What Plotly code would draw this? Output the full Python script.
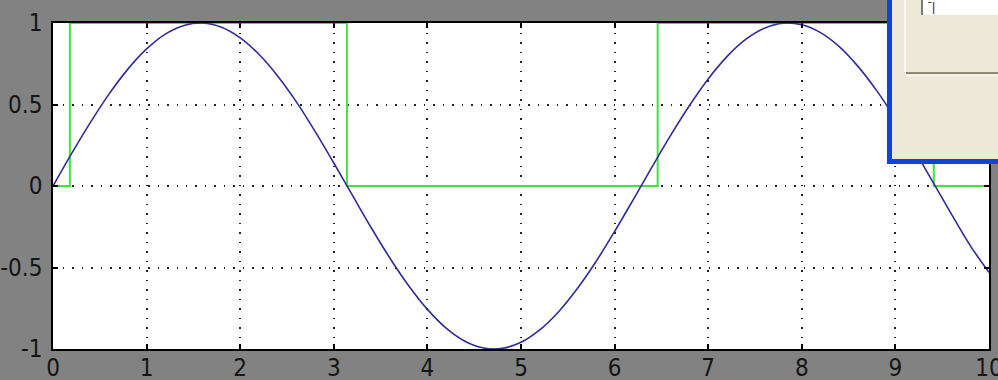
import plotly.graph_objects as go

# Blue curve samples
x_curve = [0.0, 0.2, 0.4, 0.6, 0.8, 1.0, 1.2, 1.4, 1.6, 1.8, 2.0, 2.2, 2.4, 2.6, 2.8,
           3.0, 3.2, 3.4, 3.6, 3.8, 4.0, 4.2, 4.4, 4.6, 4.8, 5.0, 5.2, 5.4, 5.6, 5.8,
           6.0, 6.2, 6.4, 6.6, 6.8, 7.0, 7.2, 7.4, 7.6, 7.8, 8.0, 8.2, 8.4, 8.6, 8.8,
           9.0, 9.2, 9.4, 9.6, 9.8, 10.0]
y_curve = [0.0, 0.2, 0.39, 0.565, 0.717, 0.841, 0.932, 0.985, 1.0, 0.974, 0.909, 0.808,
           0.675, 0.516, 0.335, 0.141, -0.058, -0.256, -0.443, -0.612, -0.757, -0.872,
           -0.952, -0.994, -0.996, -0.959, -0.883, -0.773, -0.631, -0.465, -0.279,
           -0.083, 0.117, 0.312, 0.494, 0.657, 0.794, 0.899, 0.968, 0.999, 0.989,
           0.941, 0.855, 0.734, 0.585, 0.412, 0.223, 0.025, -0.174, -0.366, -0.53]

# Green step signal (switching points)
x_step = [0.0, 0.18, 3.14, 6.46, 9.41, 10.0]
y_step = [0, 1, 0, 1, 0, 0]

x_ticks = [0, 1, 2, 3, 4, 5, 6, 7, 8, 9, 10]
x_tick_labels = ["0", "1", "2", "3", "4", "5", "6", "7", "8", "9", "10"]
y_ticks = [-1, -0.5, 0, 0.5, 1]
y_tick_labels = ["-1", "-0.5", "0", "0.5", "1"]

W, H = 998, 380
L, R, T, B = 53, 9, 23, 31
PW, PH = W - L - R, H - T - B


def px(xp):
    return (xp - L) / PW


def py(yp):
    return (H - B - yp) / PH


FONT = "Liberation Sans Narrow, DejaVu Sans Condensed, Arial Narrow, sans-serif"

fig = go.Figure()
fig.add_trace(go.Scatter(x=x_step, y=y_step, mode="lines", line_shape="hv",
                         line=dict(color="#44e044", width=2), showlegend=False))
fig.add_trace(go.Scatter(x=x_curve, y=y_curve, mode="lines", line_shape="spline",
                         line=dict(color="#2e2e98", width=1.6), showlegend=False))

axis_common = dict(
    showline=True, linecolor="black", linewidth=1.5, mirror="ticks",
    ticks="inside", ticklen=5, tickcolor="black", tickwidth=1.5,
    showgrid=True, gridcolor="#222222", gridwidth=1.5, griddash="1.5px,8px",
    zeroline=False, automargin=False, ticklabeloverflow="allow",
    tickfont=dict(family=FONT, size=24, color="#151515"),
)

fig.update_xaxes(range=[0, 10], tickvals=x_ticks, ticktext=x_tick_labels, ticklabelstandoff=-4,
                 **axis_common)
fig.update_yaxes(range=[-1, 1], tickvals=y_ticks, ticktext=y_tick_labels, ticklabelstandoff=4,
                 **axis_common)

shapes = [
    # dialog window body with blue border
    dict(type="rect", xref="paper", yref="paper", x0=px(887), x1=px(1005), y0=py(164), y1=py(-5),
         fillcolor="#0b46d8", line=dict(width=0), layer="above"),
    dict(type="rect", xref="paper", yref="paper", x0=px(892), x1=px(1005), y0=py(159), y1=py(-5),
         fillcolor="#ece9d8", line=dict(width=0), layer="above"),
    # raised panel edge
    dict(type="line", xref="paper", yref="paper", x0=px(905), x1=px(905), y0=py(72), y1=py(-5),
         line=dict(color="#fbfaf5", width=2), layer="above"),
    # separator
    dict(type="line", xref="paper", yref="paper", x0=px(906), x1=px(1005), y0=py(73), y1=py(73),
         line=dict(color="#8c8a78", width=2), layer="above"),
    dict(type="line", xref="paper", yref="paper", x0=px(906), x1=px(1005), y0=py(75.5), y1=py(75.5),
         line=dict(color="#fbfaf5", width=1), layer="above"),
    # text field
    dict(type="rect", xref="paper", yref="paper", x0=px(921), x1=px(1005), y0=py(15), y1=py(-5),
         fillcolor="#ffffff", line=dict(width=0), layer="above"),
    dict(type="line", xref="paper", yref="paper", x0=px(922), x1=px(922), y0=py(15), y1=py(-5),
         line=dict(color="#7a7a70", width=2), layer="above"),
]

fig.update_layout(
    width=W, height=H,
    margin=dict(l=L, r=R, t=T, b=B, autoexpand=False),
    paper_bgcolor="#828282", plot_bgcolor="#ffffff",
    shapes=shapes,
    annotations=[dict(text="ˉ|", xref="paper", yref="paper", x=px(926), y=py(7), xanchor="left",
                      yanchor="middle", showarrow=False,
                      font=dict(family="Liberation Sans, Arial", size=12, color="#222222"))],
)

fig.write_html("out.html", config={"displayModeBar": False},
               post_script="document.body.style.margin='0';document.body.style.overflow='hidden';")
